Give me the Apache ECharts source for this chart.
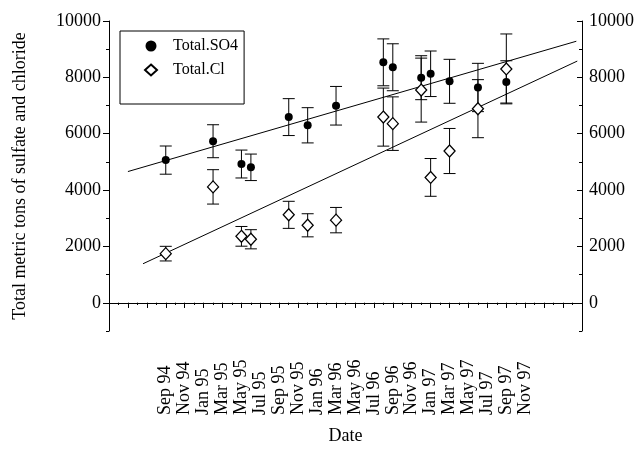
<!DOCTYPE html>
<html><head><meta charset="utf-8">
<script src="https://cdn.jsdelivr.net/npm/echarts@6/dist/echarts.min.js"></script>
<style>html,body{margin:0;padding:0;background:#fff}#c{width:641px;height:450px}</style>
</head><body><div id="c"></div>
<script>
// months counted from Jan 1994 (0 = Jan 94)
const monthNames = ['Jan','Feb','Mar','Apr','May','Jun','Jul','Aug','Sep','Oct','Nov','Dec'];
const sampleMonths = [8,13,16,17,21,23,26,31,32,35,36,38,41,44];
const so4Values = [5064,5734,4925,4808,6590,6299,6993,8533,8359,7988,8127,7860,7641,7839];
const so4Errors = [500,585,495,470,655,625,685,832,833,780,808,780,857,750];
const clValues  = [1745,4114,2359,2255,3122,2751,2934,6590,6358,7548,4450,5387,6889,8300];
const clErrors  = [260,610,350,340,480,410,450,1030,950,1135,670,800,1030,1240];
const so4FitMonths = [4.0, 51.4];
const so4FitValues = [4658, 9282];
const clFitMonths = [5.6, 51.5];
const clFitValues = [1387, 8578];
const yMajorTicks = [0,2000,4000,6000,8000,10000];
const yMinorTicks = [-1000,1000,3000,5000,7000,9000];
const xLabelFirst = 8, xLabelLast = 46;

const FONT = 'Liberation Serif';
const black = '#000';

function monthLabel(m){
  m = Math.round(m);
  if (m < xLabelFirst || m > xLabelLast) return '';
  return monthNames[m % 12] + ' ' + (94 + Math.floor(m / 12));
}
function plainNum(v){ return String(v); }
function errRender(params, api){
  const x = api.value(0), v = api.value(1), e = api.value(2);
  const t = api.coord([x, v + e]), b = api.coord([x, v - e]);
  const hw = 6, st = {stroke: black, lineWidth: 1};
  return {type:'group', children:[
    {type:'line', shape:{x1:t[0], y1:t[1], x2:b[0], y2:b[1]}, style:st},
    {type:'line', shape:{x1:t[0]-hw, y1:t[1], x2:t[0]+hw, y2:t[1]}, style:st},
    {type:'line', shape:{x1:b[0]-hw, y1:b[1], x2:b[0]+hw, y2:b[1]}, style:st}
  ]};
}
const so4Pts = sampleMonths.map((m,i)=>[m, so4Values[i]]);
const clPts = sampleMonths.map((m,i)=>[m, clValues[i]]);
const so4Err = sampleMonths.map((m,i)=>[m, so4Values[i], so4Errors[i]]);
const clErr = sampleMonths.map((m,i)=>[m, clValues[i], clErrors[i]]);

const axisLineStyle = {show:true, lineStyle:{color:black, width:1}};
const yBase = {type:'value', min:-1000, max:10000, interval:1000, splitLine:{show:false}, axisLine:axisLineStyle};

const chart = echarts.init(document.getElementById('c'), null, {renderer:'canvas'});
chart.setOption({
  animation:false,
  backgroundColor:'#fff',
  textStyle:{fontFamily:FONT, color:black},
  grid:{left:109, right:59, top:21, bottom:112},
  legend:{
    show:true, left:120, top:31, orient:'vertical',
    data:['Total.SO4','Total.Cl'],
    itemWidth:12, itemHeight:11, itemGap:8,
    symbolKeepAspect:true,
    padding:[7,6,26,24],
    borderColor:black, borderWidth:1, borderRadius:0,
    backgroundColor:'#fff',
    textStyle:{fontFamily:FONT, fontSize:16, color:black, padding:[0,0,0,11]},
    selectedMode:false
  },
  xAxis:[
    {type:'value', position:'bottom', min:2, max:52, interval:2,
     splitLine:{show:false}, axisLine:axisLineStyle,
     axisTick:{show:true, inside:false, length:5, lineStyle:{color:black}},
     minorTick:{show:true, splitNumber:2, length:2, lineStyle:{color:black}},
     axisLabel:{show:true, rotate:90, align:'left', verticalAlign:'middle', margin:84,
       fontFamily:FONT, fontSize:18, color:black, formatter:monthLabel},
     name:'Date', nameLocation:'middle', nameGap:96,
     nameTextStyle:{fontFamily:FONT, fontSize:18, color:black}},
    {type:'value', position:'top', min:2, max:52, interval:2,
     splitLine:{show:false}, axisLine:axisLineStyle,
     axisTick:{show:true, inside:true, length:5, lineStyle:{color:black}},
     minorTick:{show:true, splitNumber:2, length:2, lineStyle:{color:black}},
     axisLabel:{show:false}}
  ],
  yAxis:[
    Object.assign({}, yBase, {position:'left',
      axisTick:{show:true, inside:false, length:6, customValues:yMajorTicks, lineStyle:{color:black}},
      axisLabel:{show:true, margin:8, customValues:yMajorTicks, formatter:plainNum, fontFamily:FONT, fontSize:18, color:black},
      name:'Total metric tons of sulfate and chloride', nameLocation:'middle', nameGap:80, nameRotate:90,
      nameTextStyle:{fontFamily:FONT, fontSize:18, color:black}}),
    Object.assign({}, yBase, {position:'right',
      axisTick:{show:true, inside:true, length:5, customValues:yMajorTicks, lineStyle:{color:black}},
      axisLabel:{show:true, margin:7, customValues:yMajorTicks, formatter:plainNum, fontFamily:FONT, fontSize:18, color:black}}),
    Object.assign({}, yBase, {position:'left', axisLine:{show:false},
      axisTick:{show:true, inside:false, length:3, customValues:yMinorTicks, lineStyle:{color:black}},
      axisLabel:{show:false}}),
    Object.assign({}, yBase, {position:'right', axisLine:{show:false},
      axisTick:{show:true, inside:true, length:3, customValues:yMinorTicks, lineStyle:{color:black}},
      axisLabel:{show:false}})
  ],
  series:[
    {type:'line', name:'so4fit', data:so4FitMonths.map((m,i)=>[m, so4FitValues[i]]), showSymbol:false, symbol:'none',
     lineStyle:{color:black, width:1}, silent:true, z:1},
    {type:'line', name:'clfit', data:clFitMonths.map((m,i)=>[m, clFitValues[i]]), showSymbol:false, symbol:'none',
     lineStyle:{color:black, width:1}, silent:true, z:1},
    {type:'custom', name:'so4err', renderItem:errRender, data:so4Err, encode:{x:0, y:1}, silent:true, z:2},
    {type:'custom', name:'clerr', renderItem:errRender, data:clErr, encode:{x:0, y:1}, silent:true, z:2},
    {type:'scatter', name:'Total.SO4', data:so4Pts, symbol:'circle', symbolSize:8,
     itemStyle:{color:black, opacity:1}, z:3},
    {type:'scatter', name:'Total.Cl', data:clPts, symbol:'diamond', symbolSize:[11,12],
     itemStyle:{color:'#fff', borderColor:black, borderWidth:1.3, opacity:1}, z:4}
  ]
});
</script></body></html>
